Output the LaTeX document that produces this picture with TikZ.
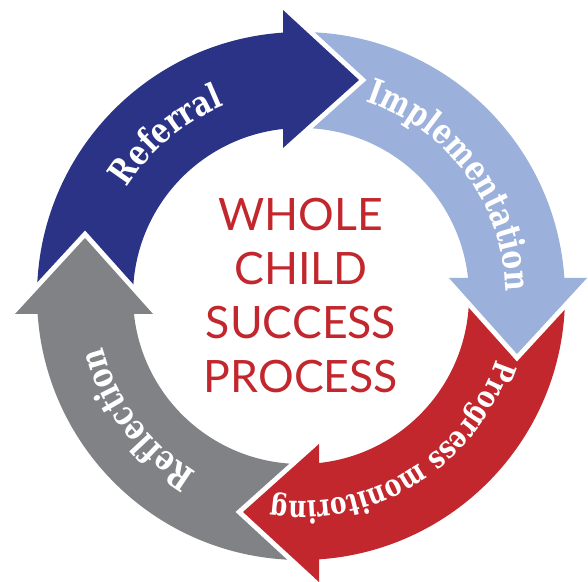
\documentclass[tikz,border=0pt]{standalone}
\usepackage{fontspec}
\usetikzlibrary{decorations.text}
\newfontfamily\lblfont[FakeStretch=0.8]{DejaVu Serif}
\newfontfamily\ctrfont{Lato}
\definecolor{cblue}{HTML}{2B3386}
\definecolor{clight}{HTML}{9BB1DB}
\definecolor{cred}{HTML}{C1272D}
\definecolor{cgray}{HTML}{808285}
\tikzset{
  gapline/.style={draw=white, line width=5pt, line join=miter, miter limit=10},
  lbl/.style={decorate, decoration={text along path, text align=center,
      text color=white, text={#1}}}
}
\begin{document}
\begin{tikzpicture}[x=0.5pt, y=0.5pt]
\useasboundingbox (0,0) rectangle (588,582);
\begin{scope}[shift={(301,286)}]
  % bodies
  \foreach \r/\c in {0/cblue,-90/clight,-180/cred,-270/cgray}{
    \begin{scope}[rotate=\r]
      \fill[\c] (180:264) arc[start angle=180, end angle=93.47, radius=132pt]
        -- (95.46:168) arc[start angle=95.46, end angle=180, radius=84pt] -- cycle;
    \end{scope}
  }
  % white gaps along head sides
  \foreach \r in {0,-90,-180,-270}{
    \begin{scope}[rotate=\r]
      \draw[gapline] (-18,286) -- (58,216) -- (-18,148);
    \end{scope}
  }
  % heads
  \foreach \r/\c in {0/cblue,-90/clight,-180/cred,-270/cgray}{
    \begin{scope}[rotate=\r]
      \fill[\c] (-18,286) -- (58,216) -- (-18,148) -- cycle;
    \end{scope}
  }
  % labels
  \path[lbl={|\lblfont\bfseries\fontsize{17.5}{17.5}\selectfont|Referral}]
    (190:205) arc[start angle=190, end angle=70, radius=102.5pt];
  \path[lbl={|\lblfont\bfseries\fontsize{17.5}{17.5}\selectfont|Implementation}]
    (96.5:205) arc[start angle=96.5, end angle=-23.5, radius=102.5pt];
  \path[lbl={|\lblfont\bfseries\fontsize{15.5}{15.5}\selectfont|Progress monitoring}]
    (11.8:205) arc[start angle=11.8, end angle=-128.2, radius=102.5pt];
  \path[lbl={|\lblfont\bfseries\fontsize{17.5}{17.5}\selectfont|Reflection}]
    (276.8:205) arc[start angle=276.8, end angle=156.8, radius=102.5pt];
\end{scope}
\node[font=\ctrfont\fontsize{22.3}{27}\selectfont, text=cred, align=center, inner sep=0pt]
  (title) at (301,286) {WHOLE\\CHILD\\SUCCESS\\PROCESS};
\end{tikzpicture}
\end{document}
